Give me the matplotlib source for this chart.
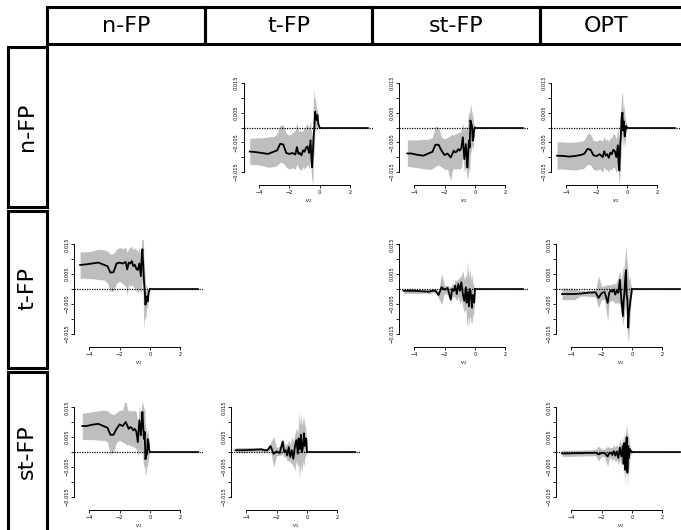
import numpy as np
import matplotlib
matplotlib.use("Agg")
import matplotlib.pyplot as plt
from matplotlib.patches import Rectangle

W, H = 681, 530

col_labels = ["n-FP", "t-FP", "st-FP", "OPT"]
row_labels = ["n-FP", "t-FP", "st-FP"]

# common x grid (after the first point of each series)
GRID = [-4.2, -3.8, -3.4, -3.0, -2.8, -2.6, -2.4, -2.2, -2.0, -1.8, -1.6, -1.5,
        -1.4, -1.3, -1.2, -1.1, -1.0, -0.9, -0.8, -0.7, -0.6, -0.55, -0.5, -0.45,
        -0.4, -0.35, -0.3, -0.25, -0.2, -0.15, -0.1, -0.05, 0.0]
X_END = 3.15

# values in units of 1e-3
# n-FP vs t-FP
x0_nt = -4.6
y_nt = [-8.1, -8.3, -8.6, -8.9, -8.1, -7.7, -5.5, -5.7, -8.6, -8.9, -8.6, -9.1, -6.6,
        -8.9, -8.6, -9.4, -7.7, -8.2, -6.8, -6.4, -8.6, -4.3, -10.0, -13.4, -8.2, -3.2,
        0.2, 5.3, 3.6, 2.5, 4.2, 1.4, 0.5, 0]
lo_nt = [-12.5, -12.5, -12.8, -13.4, -13.2, -12.8, -11.7, -12.0, -13.4, -14.0, -13.6,
         -14.0, -12.3, -13.6, -14.0, -14.5, -13.2, -14.0, -13.2, -12.5, -14.0, -11.1,
         -15.7, -18.0, -19.1, -10.0, -7.7, 0.8, -1.5, -0.9, 1.4, 0, -0.3, 0]
hi_nt = [-3.7, -3.5, -3.5, -3.2, -3.0, -2.0, 0.8, 0.8, -2.0, -2.6, -1.8, -0.9, 1.9,
         -1.5, -0.9, -1.5, -0.9, -0.3, 0.8, 1.4, -0.3, 2.5, -0.9, -3.2, 3.6, 13.3,
         9.3, 10.5, 8.2, 5.9, 6.5, 3.1, 1.4, 0]

# n-FP vs st-FP
x0_ns = -4.45
y_ns = [-8.75, -8.75, -9.2, -9.5, -8.6, -8.2, -5.8, -5.8, -7.8, -9.3, -8.75, -10.1,
        -9.0, -7.8, -8.4, -8.1, -7.3, -7.8, -6.9, -3.3, -10.7, -5.6, -9.5, -13.5,
        -9.0, -4.4, -6.7, 2.4, 1.25, 0.7, -4.4, -3.3, -0.5, 0]
lo_ns = [-13.0, -13.3, -13.5, -13.9, -14.1, -13.9, -13.0, -12.6, -13.3, -14.1, -14.1,
         -18.1, -14.7, -13.75, -14.1, -13.9, -13.75, -14.1, -13.5, -9.5, -15.2, -13.0,
         -15.8, -17.5, -15.8, -14.1, -15.2, -9.0, -7.8, -6.1, -7.8, -5.6, -1.6, 0]
hi_ns = [-4.2, -4.2, -4.2, -4.0, -3.9, -3.3, 0.7, -0.1, -3.3, -3.9, -3.3, -2.7, -2.2,
         -2.7, -1.9, -2.2, -1.6, -1.6, -1.0, 1.25, -1.0, 0.7, -0.5, -0.5, 3.5, 5.2,
         4.7, 8.1, 6.9, 5.2, 4.1, 2.4, 0.7, 0]

# n-FP vs OPT
x0_no = -4.6
y_no = [-9.5, -9.6, -9.8, -9.6, -9.2, -8.8, -7.2, -7.5, -9.4, -9.6, -9.0, -10.0, -8.0,
        -9.5, -9.0, -10.2, -8.5, -9.0, -7.5, -8.0, -10.0, -6.0, -12.0, -14.5, -6.0,
        -2.0, 3.5, 5.0, -1.0, 2.0, -3.0, -1.0, 0.5, 0]
lo_no = [-14.0, -14.0, -14.2, -14.3, -14.0, -13.6, -12.4, -12.6, -14.2, -14.4, -14.0,
         -15.0, -13.2, -14.4, -14.2, -15.0, -13.8, -14.4, -13.2, -13.8, -15.4, -12.4,
         -17.0, -19.0, -14.0, -10.0, -5.0, -2.0, -7.0, -4.0, -7.0, -4.0, -1.0, 0]
hi_no = [-4.8, -4.9, -5.0, -4.9, -4.6, -4.2, -2.0, -2.2, -4.4, -4.6, -4.0, -4.6, -3.0,
         -4.4, -3.8, -4.8, -3.4, -3.6, -2.0, -2.4, -4.0, 0.5, -3.0, -6.0, 3.0, 7.0,
         11.0, 12.0, 6.0, 8.0, 4.0, 3.0, 1.5, 0]

# t-FP vs OPT
x0_to = -4.6
y_to = [-1.7, -1.7, -1.7, -1.55, -1.3, -1.2, -1.2, -1.1, -3.0, -1.4, -1.0, -4.7, -1.3,
        -0.5, -0.9, -0.2, -1.9, -0.5, -1.3, 3.1, -3.5, -9.1, -4.0, -1.3, 3.0, 6.4,
        -2.0, -3.6, -13.0, -8.0, -5.8, -3.6, -2.0, 0]
lo_to = [-3.6, -3.6, -3.6, -2.4, -2.4, -2.5, -2.6, -2.7, -6.3, -3.6, -3.6, -10.8, -4.4,
         -4.0, -4.0, -4.2, -5.0, -4.5, -4.7, -5.0, -8.0, -12.4, -10.0, -9.0, -6.0,
         -5.0, -12.0, -14.7, -18.0, -15.0, -12.0, -7.0, -3.6, 0]
hi_to = [0.3, 0.3, 0.2, -0.6, -0.6, -0.5, -0.5, -0.3, 4.4, 0.9, 1.2, 1.5, 1.3, 1.5, 1.6,
         2.0, 1.6, 2.5, 4.2, 6.0, 3.0, 7.6, 5.0, 9.0, 11.0, 14.2, 11.0, 8.0, 5.0, 3.0,
         4.2, 2.0, 1.0, 0]

# st-FP vs t-FP
x0_st = -4.7
y_st = [0.6, 0.6, 0.7, 0.8, 0.9, 0.6, 0.6, 2.0, -0.6, 0.2, -0.35, 3.5, 0.0, 0.6, -1.15,
        1.7, -1.7, 0.6, -2.3, 1.7, 4.0, -0.6, 4.6, 1.0, 1.2, 5.8, 0.0, 0.5, 3.0, 6.3,
        2.0, 4.0, 4.6, 0]
lo_st = [-0.2, -0.2, -0.1, 0.1, 0.2, -0.1, -0.1, 0.9, -5.2, -1.2, -1.2, -0.5, -2.0,
         -1.5, -3.0, -2.9, -3.5, -4.0, -4.5, -6.3, -3.0, -5.0, -4.0, -9.2, -6.0, -4.0,
         -7.0, -5.0, -3.0, -5.2, -2.0, -1.7, -0.5, 0]
hi_st = [1.5, 1.5, 1.5, 1.4, 1.5, 1.2, 1.2, 3.0, 5.2, 1.4, 2.0, 4.6, 3.0, 2.3, 3.0, 4.0,
         2.5, 5.2, 3.5, 6.0, 8.0, 6.5, 10.0, 13.3, 9.0, 12.7, 9.0, 10.0, 11.5, 11.5,
         9.0, 8.7, 6.0, 0]

# st-FP vs OPT
x0_so = -4.6
y_so = [-0.5, -0.5, -0.4, -0.4, -0.3, -0.3, -0.3, -0.2, -0.8, -0.3, -0.4, -1.5, -0.4,
        -0.2, -1.0, 0.3, -1.2, 0.2, -2.0, 1.5, -1.5, 2.0, -4.0, 3.0, -6.0, 1.0, 5.0,
        -7.0, 2.0, -2.0, 1.0, 0.5, 0.2, 0]
lo_so = [-1.5, -1.5, -1.4, -1.4, -1.3, -1.3, -1.3, -1.2, -3.0, -1.5, -1.6, -5.0, -2.0,
         -2.0, -3.0, -2.0, -3.5, -2.5, -4.5, -2.5, -5.0, -3.0, -9.0, -4.0, -11.0, -6.0,
         -3.0, -12.0, -5.0, -6.0, -3.0, -1.0, -0.5, 0]
hi_so = [0.6, 0.6, 0.6, 0.6, 0.7, 0.7, 0.7, 0.8, 2.0, 1.0, 1.0, 2.0, 1.5, 1.6, 1.5, 2.5,
         1.5, 2.8, 1.5, 4.5, 2.5, 5.0, 3.0, 7.0, 4.0, 8.0, 9.5, 5.0, 7.0, 4.0, 3.0, 1.5,
         1.0, 0]

SERIES = {
    "nt": (x0_nt, y_nt, lo_nt, hi_nt),
    "ns": (x0_ns, y_ns, lo_ns, hi_ns),
    "no": (x0_no, y_no, lo_no, hi_no),
    "to": (x0_to, y_to, lo_to, hi_to),
    "st": (x0_st, y_st, lo_st, hi_st),
    "so": (x0_so, y_so, lo_so, hi_so),
}

# (row, col) -> (series key, sign, pixel of x=0, pixel of y=0)
PANELS = {
    (0, 1): ("nt", 1, 319.7, 127.5),
    (0, 2): ("ns", 1, 475, 127.5),
    (0, 3): ("no", 1, 627, 127.5),
    (1, 0): ("nt", -1, 150, 289),
    (1, 2): ("st", -1, 475, 289),
    (1, 3): ("to", 1, 632, 289),
    (2, 0): ("ns", -1, 150, 452),
    (2, 1): ("st", 1, 307, 452),
    (2, 3): ("so", 1, 632, 452),
}

XLIM = (-5.0, 3.5)
YLIM = (-0.0195, 0.0165)
SX = 15.2     # px per x unit
SY = 2967.0   # px per y unit

fig = plt.figure(figsize=(W / 100, H / 100), dpi=100)


def fx(px):
    return px / W


def fy(py):
    return 1 - py / H


def box(x1, y1, x2, y2):
    fig.add_artist(Rectangle((fx(x1), fy(y2)), fx(x2) - fx(x1), fy(y1) - fy(y2),
                             transform=fig.transFigure, fill=False,
                             lw=2.2, ec="black", clip_on=False))


# header row
hdr_edges = [47, 205, 372, 540, 700]
for i, lab in enumerate(col_labels):
    box(hdr_edges[i], 7, hdr_edges[i + 1], 44)
    cx = (hdr_edges[i] + min(hdr_edges[i + 1], 681)) / 2
    if i == 3:
        cx = 606
    fig.text(fx(cx), fy(25.5), lab, ha="center", va="center", fontsize=16)

# row labels
row_edges = [(47, 207), (211, 368), (372, 540)]
for i, lab in enumerate(row_labels):
    y1, y2 = row_edges[i]
    box(8, y1, 47, y2)
    fig.text(fx(27), fy([127, 289, 452][i]), lab, ha="center", va="center",
             rotation=90, fontsize=16)

for (r, c), (key, sign, px0, py0) in PANELS.items():
    xs0, yv, lo, hi = SERIES[key]
    x = np.array([xs0] + GRID)
    yv = np.array(yv) * 1e-3
    lo = np.array(lo) * 1e-3
    hi = np.array(hi) * 1e-3
    if sign < 0:
        yv, lo, hi = -yv, -hi, -lo

    left = px0 + XLIM[0] * SX
    right = px0 + XLIM[1] * SX
    top = py0 - YLIM[1] * SY
    bottom = py0 - YLIM[0] * SY
    ax = fig.add_axes([fx(left), fy(bottom), fx(right) - fx(left), fy(top) - fy(bottom)])
    ax.set_xlim(XLIM)
    ax.set_ylim(YLIM)
    ax.patch.set_alpha(0)

    ax.fill_between(x, lo, hi, color="#bebebe", lw=0)
    ax.plot(x, yv, color="black", lw=1.3)
    ax.plot([0, X_END], [0, 0], color="black", lw=1.2)
    ax.axhline(0, color="black", lw=0.9, ls=(0, (1, 1)))

    for s in ["top", "right"]:
        ax.spines[s].set_visible(False)
    ax.spines["left"].set_bounds(-0.015, 0.015)
    ax.spines["bottom"].set_bounds(-4, 2)
    for s in ["left", "bottom"]:
        ax.spines[s].set_linewidth(0.7)

    ax.set_xticks([-4, -2, 0, 2])
    ax.set_xticklabels(["\u22124", "\u22122", "0", "2"])
    yt = [-0.015, -0.010, -0.005, 0.0, 0.005, 0.010, 0.015]
    ax.set_yticks(yt)
    ax.set_yticklabels(["\u22120.015", "", "\u22120.005", "", "0.005", "", "0.015"])
    ax.tick_params(direction="out", length=2.2, width=0.6, labelsize=3.6, pad=1.2)
    ax.tick_params(axis="y", labelrotation=90)
    for t in ax.get_yticklabels():
        t.set_va("center")
    ax.set_xlabel("$v_2$", fontsize=3.8, labelpad=1.5)

fig.savefig("out.png", dpi=100)
